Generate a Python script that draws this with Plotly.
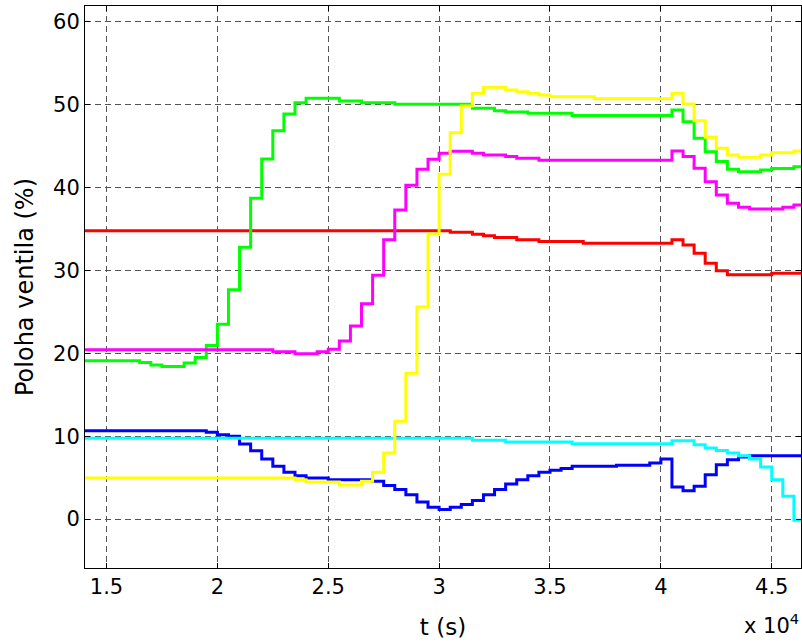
import plotly.graph_objects as go

# sample times (s)
t = [14000, 14500, 15000, 15500, 16000, 16500, 17000, 17500, 18000, 18500,
     19000, 19500, 20000, 20500, 21000, 21500, 22000, 22500, 23000, 23500,
     24000, 24500, 25000, 25500, 26000, 26500, 27000, 27500, 28000, 28500,
     29000, 29500, 30000, 30500, 31000, 31500, 32000, 32500, 33000, 33500,
     34000, 34500, 35000, 35500, 36000, 36500, 37000, 37500, 38000, 38500,
     39000, 39500, 40000, 40500, 41000, 41500, 42000, 42500, 43000, 43500,
     44000, 44500, 45000, 45500, 46000, 46500]

red = [34.8] * 33 + [34.6, 34.6, 34.37, 34.17, 33.97, 33.97, 33.69, 33.69,
       33.48, 33.48, 33.48, 33.48,
       33.29, 33.29, 33.29, 33.29, 33.29, 33.29, 33.29, 33.29,
       33.69, 33.08, 32.08, 30.88, 29.95, 29.47, 29.47, 29.47, 29.47,
       29.67, 29.67, 29.67, 29.67]

green = [19.1, 19.1, 19.1, 19.1, 19.1, 18.9, 18.6, 18.4, 18.4, 18.82,
         19.5, 20.95, 23.5, 27.66, 32.8, 38.7, 43.45, 46.86, 48.87, 50.24,
         50.76, 50.76, 50.76, 50.44, 50.44, 50.24, 50.24, 50.24, 50.06, 50.06,
         50.06, 50.06, 50.06, 50.06, 50.06, 49.56, 49.56, 49.27, 49.1, 49.1,
         48.95, 48.95, 48.95, 48.95, 48.7, 48.7, 48.7, 48.7, 48.7, 48.7,
         48.7, 48.7, 48.7, 49.35, 47.95, 45.94, 44.33, 43.13, 42.2, 41.9,
         41.9, 42.1, 42.3, 42.3, 42.5, 42.5]

magenta = [20.43] * 17 + [20.2, 20.2, 19.95, 19.95, 20.2, 20.5,
           21.5, 23.3, 25.97, 29.43, 33.69, 37.3, 40.28, 42.2, 43.41, 44.14,
           44.38, 44.38, 44.14, 43.93, 43.93, 43.73, 43.53, 43.53,
           43.3, 43.3, 43.3, 43.3, 43.3, 43.3, 43.3, 43.3, 43.3, 43.3, 43.3, 43.3,
           44.41, 43.73, 42.33, 40.7, 39.1, 38.1, 37.63, 37.42, 37.42, 37.42,
           37.63, 37.9, 37.9]

yellow = [4.96] * 19 + [4.76, 4.48, 4.48, 4.48, 4.1, 4.1,
          4.56, 5.64, 7.97, 11.8, 17.6, 25.6, 34.4, 41.6, 46.6, 49.84, 51.37,
          52.09, 52.09, 51.77, 51.56, 51.37, 51.16,
          50.96, 50.96, 50.96, 50.96,
          50.72, 50.72, 50.72, 50.72, 50.72, 50.72, 50.72,
          51.37, 50.08, 48.07, 46.07, 44.74, 43.93, 43.65, 43.65, 43.93,
          44.2, 44.2, 44.4, 44.4]

blue = [10.67] * 11 + [10.47, 10.18, 9.98, 9.06, 8.26, 7.26, 6.37, 5.64, 5.24,
        4.96, 4.96, 4.76, 4.76, 4.76, 4.76,
        4.56, 4.04, 3.56, 2.95, 2.07, 1.42, 1.15, 1.42, 1.75, 2.23, 2.95, 3.56,
        4.24, 4.76, 5.24, 5.64, 5.88, 6.09,
        6.37, 6.37, 6.37, 6.37, 6.5, 6.5, 6.5,
        6.77, 7.26, 3.88, 3.43, 3.95, 5.36, 6.57, 7.17, 7.5,
        7.65, 7.65, 7.65, 7.65, 7.65, 7.65]

cyan = [9.75] * 35 + [9.5, 9.5, 9.5, 9.3, 9.3, 9.3, 9.3, 9.3, 9.3,
        9.1, 9.1, 9.1, 9.1, 9.1, 9.1, 9.1, 9.1, 9.1,
        9.46, 9.46, 8.98, 8.58, 8.29, 7.98, 7.65, 7.26, 6.29, 4.76, 2.75,
        -0.14, -0.14]

x_ticks = [15000, 20000, 25000, 30000, 35000, 40000, 45000]
x_tick_text = ["1.5", "2", "2.5", "3", "3.5", "4", "4.5"]
y_ticks = [0, 10, 20, 30, 40, 50, 60]

series = [
    (red, "#FF0000"),
    (green, "#00FF00"),
    (blue, "#0000FF"),
    (magenta, "#FF00FF"),
    (cyan, "#00FFFF"),
    (yellow, "#FFFF00"),
]

FONT = "DejaVu Sans, Liberation Sans, Arial, sans-serif"

fig = go.Figure()
for vals, col in series:
    fig.add_trace(go.Scatter(x=t, y=vals, mode="lines", line_shape="hv",
                             line=dict(color=col, width=3), showlegend=False,
                             hoverinfo="skip"))

axis_common = dict(
    showline=True, mirror="ticks", linecolor="black", linewidth=1,
    ticks="inside", ticklen=5, tickcolor="black", tickwidth=1,
    showgrid=True, gridcolor="#555555", griddash="6px,4px", gridwidth=1,
    zeroline=False,
    tickfont=dict(family=FONT, size=21, color="black"),
)

fig.update_xaxes(range=[14030, 46320], tickvals=x_ticks, ticktext=x_tick_text,
                 title=dict(text="t (s)", font=dict(family=FONT, size=23, color="black"),
                            standoff=20),
                 **axis_common)
fig.update_yaxes(range=[-5.9, 61.9], tickvals=y_ticks,
                 title=dict(text="Poloha ventila (%)",
                            font=dict(family=FONT, size=24, color="black"),
                            standoff=12),
                 **axis_common)

fig.add_annotation(text="x 10<sup>4</sup>", xref="paper", yref="paper",
                   x=1.0, y=-0.1, xanchor="right", yanchor="middle",
                   showarrow=False,
                   font=dict(family=FONT, size=21, color="black"))

fig.update_layout(
    width=802, height=644,
    margin=dict(l=85, r=1, t=6, b=76),
    paper_bgcolor="white", plot_bgcolor="white",
)

fig.write_html("out.html")
